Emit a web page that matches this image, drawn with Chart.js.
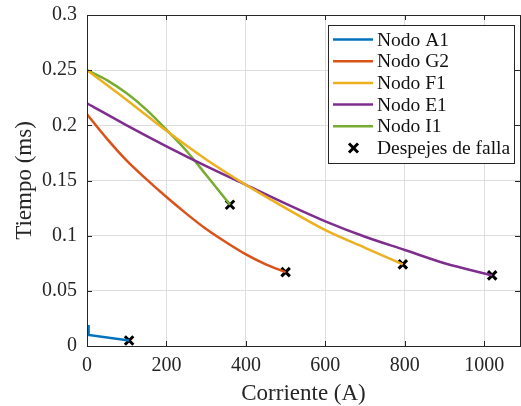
<!DOCTYPE html>
<html lang="es">
<head>
    <meta charset="UTF-8">
    <title>Tiempo vs Corriente</title>
    <script src="https://cdn.jsdelivr.net/npm/chart.js"></script>
    <style>
        html, body { margin: 0; padding: 0; background: #ffffff; }
        #wrap { width: 521px; height: 406px; }
    </style>
</head>
<body>
    <div id="wrap"><canvas id="curvas" width="521" height="406"></canvas></div>

    <script>
        // Datos
        const corrienteA1 = [4, 4, 106];
        const tiempoA1 = [0.019, 0.010, 0.005];

        const corrienteG2 = [0, 50, 100, 150, 200, 250, 300, 350, 400, 450, 500];
        const tiempoG2 = [0.21, 0.188, 0.168, 0.151, 0.135, 0.120, 0.106, 0.094, 0.083, 0.074, 0.067];

        const corrienteF1 = [0, 100, 200, 300, 400, 500, 600, 700, 795];
        const tiempoF1 = [0.25, 0.223, 0.195, 0.169, 0.146, 0.125, 0.105, 0.089, 0.074];

        const corrienteE1 = [0, 100, 200, 300, 400, 500, 600, 700, 800, 900, 1020];
        const tiempoE1 = [0.22, 0.2, 0.181, 0.163, 0.146, 0.129, 0.113, 0.099, 0.087, 0.075, 0.064];

        const corrienteI1 = [0, 50, 100, 150, 200, 250, 300, 360];
        const tiempoI1 = [0.25, 0.241, 0.229, 0.214, 0.196, 0.177, 0.155, 0.128];

        const corrienteFalla = [106, 500, 795, 1020, 360];
        const tiempoFalla = [0.005, 0.067, 0.074, 0.064, 0.128];

        const xTicks = [0, 200, 400, 600, 800, 1000];

        const pts = (xs, ys) => xs.map((x, i) => ({ x: x, y: ys[i] }));

        function curva(label, xs, ys, color, smooth) {
            return {
                label: label,
                data: pts(xs, ys),
                showLine: true,
                borderColor: color,
                backgroundColor: color,
                borderWidth: 2.5,
                pointRadius: 0,
                tension: 0,
                cubicInterpolationMode: smooth ? 'monotone' : 'default'
            };
        }

        const serif = '"Liberation Serif", "Times New Roman", serif';

        // Caja, marcas hacia dentro y leyenda estilo MATLAB
        const cajaPlugin = {
            id: 'caja',
            afterDraw(chart) {
                const c = chart.ctx;
                const a = chart.chartArea;
                const xs = chart.scales.x, ys = chart.scales.y;
                c.save();
                c.strokeStyle = '#262626';
                c.lineWidth = 1;
                c.beginPath();
                xs.ticks.forEach(t => {
                    const px = Math.round(xs.getPixelForValue(t.value)) + 0.5;
                    c.moveTo(px, a.bottom); c.lineTo(px, a.bottom - 5);
                    c.moveTo(px, a.top); c.lineTo(px, a.top + 5);
                });
                ys.ticks.forEach(t => {
                    const py = Math.round(ys.getPixelForValue(t.value)) + 0.5;
                    c.moveTo(a.left, py); c.lineTo(a.left + 5, py);
                    c.moveTo(a.right, py); c.lineTo(a.right - 5, py);
                });
                c.stroke();
                c.strokeRect(Math.round(a.left) + 0.5, Math.round(a.top) + 0.5,
                    Math.round(a.right - a.left), Math.round(a.bottom - a.top));

                // leyenda
                const lx = 328.5, ly = 25.5, lw = 186, lh = 138;
                c.fillStyle = '#ffffff';
                c.fillRect(lx, ly, lw, lh);
                c.strokeRect(lx, ly, lw, lh);
                c.font = '19.5px ' + serif;
                c.textBaseline = 'middle';
                c.textAlign = 'left';
                chart.data.datasets.forEach((ds, i) => {
                    const y = 39.5 + i * 21.7;
                    if (ds.showLine) {
                        c.strokeStyle = ds.borderColor;
                        c.lineWidth = 2.5;
                        c.beginPath();
                        c.moveTo(333, y); c.lineTo(373, y);
                        c.stroke();
                    } else {
                        c.strokeStyle = '#000000';
                        c.lineWidth = 3;
                        c.beginPath();
                        c.moveTo(349, y - 4.5); c.lineTo(358, y + 4.5);
                        c.moveTo(358, y - 4.5); c.lineTo(349, y + 4.5);
                        c.stroke();
                    }
                    c.fillStyle = '#111111';
                    c.fillText(ds.label, 377, y + 1);
                });
                c.restore();
            }
        };

        new Chart(document.getElementById('curvas'), {
            type: 'scatter',
            data: {
                datasets: [
                    curva('Nodo A1', corrienteA1, tiempoA1, '#0072BD', false),
                    curva('Nodo G2', corrienteG2, tiempoG2, '#D95319', true),
                    curva('Nodo F1', corrienteF1, tiempoF1, '#EDB120', true),
                    curva('Nodo E1', corrienteE1, tiempoE1, '#7E2F8E', true),
                    curva('Nodo I1', corrienteI1, tiempoI1, '#77AC30', true),
                    {
                        label: 'Despejes de falla',
                        data: pts(corrienteFalla, tiempoFalla),
                        showLine: false,
                        pointStyle: 'crossRot',
                        pointRadius: 6,
                        borderWidth: 3,
                        borderColor: '#000000',
                        backgroundColor: '#000000'
                    }
                ]
            },
            options: {
                responsive: false,
                animation: false,
                layout: { autoPadding: false, padding: { top: 15, right: 1, left: 0, bottom: 0 } },
                plugins: {
                    legend: { display: false },
                    tooltip: { enabled: false }
                },
                scales: {
                    x: {
                        type: 'linear',
                        min: 0,
                        max: 1090,
                        afterBuildTicks: s => { s.ticks = xTicks.map(v => ({ value: v })); },
                        afterFit: s => {
                            s.height = 60;
                            s.paddingLeft = 0;
                            s.paddingRight = 0;
                        },
                        grid: { color: '#dedede', drawTicks: false },
                        border: { display: false },
                        ticks: {
                            padding: 8,
                            color: '#262626',
                            font: { family: serif, size: 20 },
                            maxRotation: 0,
                            callback: v => String(v)
                        },
                        title: {
                            display: true,
                            text: 'Corriente (A)',
                            color: '#262626',
                            font: { family: serif, size: 23 },
                            padding: { top: 0, bottom: -2 }
                        }
                    },
                    y: {
                        type: 'linear',
                        min: 0,
                        max: 0.3,
                        ticks: {
                            stepSize: 0.05,
                            padding: 10,
                            color: '#262626',
                            font: { family: serif, size: 20 },
                            callback: v => String(+v.toFixed(2))
                        },
                        afterFit: s => {
                            s.width = 87;
                            s.paddingTop = 0;
                            s.paddingBottom = 0;
                        },
                        grid: { color: '#dedede', drawTicks: false },
                        border: { display: false },
                        title: {
                            display: true,
                            text: 'Tiempo (ms)',
                            color: '#262626',
                            font: { family: serif, size: 23 },
                            padding: { top: 11, bottom: 0 }
                        }
                    }
                }
            },
            plugins: [cajaPlugin]
        });
    </script>
</body>
</html>
